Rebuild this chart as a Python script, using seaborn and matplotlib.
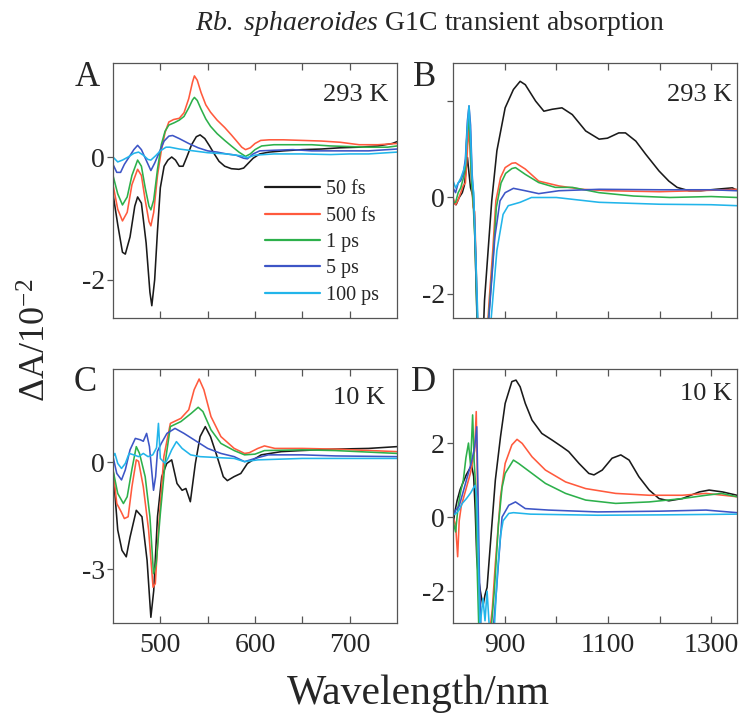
import numpy as np
import pandas as pd
import matplotlib
matplotlib.use("Agg")
import matplotlib.pyplot as plt
import seaborn as sns

# ---------------- data ----------------
delays = ["50 fs", "500 fs", "1 ps", "5 ps", "100 ps"]
colors = ["#1a1a1a", "#ff5a3d", "#2db04b", "#3d55c6", "#22b5ea"]

# Panel A (293 K, visible)
A_wl_50fs = [450, 455, 460, 463, 468, 473, 476, 480, 485, 489, 491, 494, 497, 500, 504, 508, 512, 516, 520, 524, 528, 533, 538, 542, 547, 552, 557, 562, 568, 575, 583, 588, 593, 598, 605, 615, 630, 650, 670, 690, 710, 730, 745, 750]
A_dA_50fs = [-0.6, -1.1, -1.55, -1.58, -1.3, -0.8, -0.65, -0.75, -1.4, -2.2, -2.42, -2.0, -1.2, -0.5, -0.15, -0.05, 0.0, -0.05, -0.15, -0.15, 0.0, 0.2, 0.33, 0.36, 0.3, 0.18, 0.05, -0.07, -0.15, -0.19, -0.2, -0.18, -0.1, -0.02, 0.05, 0.08, 0.1, 0.12, 0.13, 0.15, 0.16, 0.18, 0.22, 0.25]
A_wl_500fs = [450, 455, 460, 465, 470, 476, 480, 484, 488, 490, 493, 497, 501, 505, 509, 514, 520, 525, 530, 534, 536, 539, 543, 548, 553, 560, 568, 575, 580, 586, 590, 595, 600, 606, 615, 630, 650, 670, 690, 710, 730, 750]
A_dA_500fs = [-0.45, -0.85, -1.04, -0.9, -0.45, -0.2, -0.3, -0.7, -1.05, -1.12, -0.9, -0.3, 0.1, 0.4, 0.57, 0.61, 0.63, 0.72, 0.95, 1.22, 1.32, 1.25, 1.05, 0.85, 0.73, 0.6, 0.48, 0.36, 0.27, 0.16, 0.12, 0.15, 0.22, 0.27, 0.28, 0.28, 0.27, 0.26, 0.24, 0.2, 0.2, 0.22]
A_wl_1ps = [450, 455, 460, 465, 470, 476, 480, 484, 488, 490, 493, 497, 501, 505, 509, 515, 520, 525, 530, 534, 536, 539, 543, 548, 553, 560, 568, 575, 583, 590, 595, 600, 607, 620, 640, 660, 680, 700, 720, 740, 750]
A_dA_1ps = [-0.3, -0.6, -0.78, -0.65, -0.3, -0.05, -0.15, -0.5, -0.8, -0.86, -0.7, -0.2, 0.2, 0.42, 0.52, 0.56, 0.6, 0.66, 0.8, 0.93, 0.97, 0.92, 0.78, 0.62, 0.5, 0.38, 0.27, 0.18, 0.08, 0.01, 0.05, 0.12, 0.18, 0.2, 0.2, 0.2, 0.18, 0.17, 0.16, 0.16, 0.18]
A_wl_5ps = [450, 454, 458, 462, 467, 472, 476, 480, 485, 490, 494, 499, 504, 509, 513, 520, 530, 540, 550, 560, 570, 580, 588, 592, 598, 605, 620, 640, 660, 680, 700, 720, 740, 750]
A_dA_5ps = [-0.12, -0.25, -0.25, -0.12, 0.0, 0.12, 0.19, 0.12, -0.05, -0.22, -0.1, 0.08, 0.26, 0.34, 0.35, 0.3, 0.22, 0.15, 0.1, 0.08, 0.05, 0.03, -0.02, -0.03, 0.05, 0.1, 0.11, 0.12, 0.1, 0.1, 0.1, 0.1, 0.12, 0.13]
A_wl_100ps = [450, 455, 460, 466, 472, 477, 482, 487, 490, 495, 500, 506, 510, 520, 535, 550, 570, 585, 592, 600, 620, 650, 680, 700, 720, 740, 750]
A_dA_100ps = [0.0, -0.08, -0.05, 0.0, 0.06, 0.08, 0.03, -0.04, -0.05, 0.02, 0.1, 0.16, 0.16, 0.13, 0.1, 0.07, 0.05, 0.02, -0.01, 0.03, 0.05, 0.05, 0.04, 0.05, 0.05, 0.07, 0.08]

# Panel B (293 K, near-IR)
B_wl_50fs = [800, 806, 812, 818, 822, 825, 828, 831, 834, 838, 841, 844, 847, 852, 858, 861, 868, 875, 885, 901, 917, 930, 940, 960, 976, 992, 1011, 1031, 1057, 1083, 1099, 1121, 1134, 1154, 1173, 1199, 1218, 1234, 1257, 1280, 1309, 1341, 1350]
B_dA_50fs = [-0.1, -0.15, 0.0, 0.1, 0.25, 0.55, 0.83, 0.5, 0.2, 0.05, -0.3, -1.5, -2.6, -3.0, -3.0, -2.14, -1.1, -0.07, 0.97, 1.86, 2.24, 2.41, 2.34, 2.0, 1.79, 1.83, 1.86, 1.72, 1.38, 1.21, 1.23, 1.34, 1.34, 1.17, 0.9, 0.55, 0.34, 0.21, 0.14, 0.14, 0.17, 0.2, 0.15]
B_wl_500fs = [800, 805, 810, 815, 820, 824, 827, 830, 833, 836, 839, 842, 845, 848, 865, 870, 877, 883, 892, 901, 914, 921, 940, 966, 1005, 1050, 1100, 1200, 1300, 1350]
B_dA_500fs = [0.0, -0.15, -0.05, 0.1, 0.25, 0.3, 0.8, 1.45, 1.0, 0.3, -0.2, -0.3, -1.5, -2.8, -3.0, -2.14, -1.1, -0.07, 0.41, 0.62, 0.71, 0.72, 0.59, 0.34, 0.24, 0.17, 0.14, 0.12, 0.15, 0.17]
B_wl_1ps = [800, 805, 810, 815, 820, 824, 827, 830, 833, 836, 839, 843, 847, 865, 871, 878, 884, 893, 902, 914, 921, 940, 966, 998, 1031, 1083, 1150, 1220, 1300, 1350]
B_dA_1ps = [-0.1, -0.1, 0.1, 0.2, 0.4, 0.6, 1.3, 1.65, 1.2, 0.3, -0.1, -1.0, -2.8, -3.0, -2.2, -1.2, -0.2, 0.3, 0.5, 0.6, 0.62, 0.48, 0.31, 0.21, 0.21, 0.1, 0.03, 0.0, 0.02, 0.0]
B_wl_5ps = [800, 805, 810, 815, 820, 824, 828, 831, 834, 837, 840, 844, 848, 866, 872, 881, 891, 901, 917, 940, 966, 1005, 1083, 1200, 1300, 1350]
B_dA_5ps = [0.2, 0.1, 0.3, 0.35, 0.5, 0.8, 1.6, 1.9, 1.5, 0.5, 0.0, -1.2, -2.8, -3.0, -2.14, -0.83, -0.07, 0.1, 0.19, 0.14, 0.08, 0.14, 0.17, 0.16, 0.16, 0.14]
B_wl_100ps = [800, 805, 810, 815, 820, 824, 828, 831, 834, 837, 840, 845, 849, 868, 874, 885, 897, 907, 917, 930, 952, 1000, 1083, 1200, 1300, 1350]
B_dA_100ps = [0.35, 0.2, 0.3, 0.4, 0.55, 0.7, 1.5, 1.9, 1.3, 0.4, 0.1, -1.5, -2.8, -3.0, -2.5, -1.1, -0.35, -0.17, -0.14, -0.1, 0.0, 0.0, -0.1, -0.14, -0.15, -0.17]

# Panel C (10 K, visible)
C_wl_50fs = [450, 455, 459.5, 464, 468, 474.6, 480.6, 486, 490, 493, 497, 501.5, 506.8, 512, 517.6, 523, 527, 531.7, 537, 542, 547.5, 553, 560, 566.5, 570.8, 577.8, 585, 592, 606.5, 627.7, 649, 684, 720, 750]
C_dA_50fs = [-0.22, -1.9, -2.47, -2.65, -2.1, -1.35, -1.53, -2.75, -4.34, -3.6, -1.53, -0.41, -0.04, 0.06, -0.6, -0.79, -0.74, -1.11, -0.04, 0.71, 0.99, 0.71, 0.15, -0.41, -0.52, -0.41, -0.32, -0.04, 0.2, 0.29, 0.32, 0.36, 0.38, 0.43]
C_wl_500fs = [450, 454, 458.6, 462, 466, 470, 474.6, 477, 482, 487.6, 492.3, 494.7, 498, 503.7, 510.6, 521.7, 530, 535.7, 541, 546, 553.5, 564, 578, 589, 594, 603, 610, 621, 650, 685, 750]
C_dA_500fs = [-0.22, -1.16, -1.39, -1.58, -1.53, -0.69, 0.06, 0.02, -0.69, -1.9, -3.5, -3.4, -1.9, 0.15, 1.08, 1.22, 1.46, 2.02, 2.32, 2.02, 1.27, 0.71, 0.38, 0.24, 0.26, 0.38, 0.45, 0.38, 0.38, 0.36, 0.29]
C_wl_1ps = [450, 455, 461, 465, 470, 474.6, 478, 484, 489, 492.8, 495.6, 500, 505, 510.6, 521.7, 532.6, 540, 545, 553.5, 564, 578, 589, 600, 610, 650, 685, 750]
C_dA_1ps = [-0.22, -0.88, -1.16, -0.97, -0.2, 0.43, 0.24, -0.41, -1.53, -3.12, -2.84, -1.44, -0.04, 0.99, 1.13, 1.36, 1.53, 1.41, 0.9, 0.52, 0.32, 0.2, 0.22, 0.32, 0.34, 0.32, 0.24]
C_wl_5ps = [450, 454, 459, 463, 468, 473.6, 479, 482, 485.5, 488.5, 492.8, 495, 497, 501, 507, 515.5, 525, 535.7, 550, 564, 578, 589, 600, 614, 650, 685, 750]
C_dA_5ps = [0.15, -0.32, -0.5, -0.22, 0.34, 0.66, 0.62, 0.58, 0.8, 0.43, -0.79, -0.41, 0.3, 0.52, 0.8, 0.94, 0.8, 0.62, 0.38, 0.24, 0.15, 0.01, 0.1, 0.2, 0.2, 0.17, 0.15]
C_wl_100ps = [450, 452, 455, 459, 463, 467, 472, 477, 482, 487, 492, 496, 498, 500, 505, 508, 512, 517, 523, 532, 542, 578, 589, 603, 650, 750]
C_dA_100ps = [0.15, 0.24, -0.04, -0.18, -0.04, 0.24, 0.2, 0.15, 0.24, 0.15, 0.2, 0.4, 1.08, 0.1, -0.04, 0.1, 0.34, 0.57, 0.38, 0.2, 0.15, 0.1, 0.01, 0.06, 0.1, 0.1]

# Panel D (10 K, near-IR)
D_wl_50fs = [800, 803, 808, 814, 820, 826, 832, 836, 840, 843, 846, 849, 853, 858, 862, 866, 872, 882, 892, 901, 914, 922, 930, 940, 953, 972, 992, 1011, 1024, 1044, 1063, 1073, 1089, 1108, 1125, 1141, 1160, 1180, 1199, 1218, 1244, 1277, 1296, 1322, 1350]
D_dA_50fs = [-0.3, 0.1, 0.45, 0.75, 0.95, 1.15, 1.3, 1.4, 1.1, 0.2, -1.1, -1.6, -2.0, -2.4, -2.1, -1.9, -0.8, 1.0, 2.17, 3.07, 3.66, 3.7, 3.52, 3.07, 2.62, 2.26, 2.08, 1.9, 1.77, 1.45, 1.18, 1.14, 1.27, 1.59, 1.68, 1.54, 1.09, 0.73, 0.5, 0.44, 0.5, 0.68, 0.73, 0.68, 0.59]
D_wl_500fs = [800, 805, 809, 812, 816, 822, 828, 834, 838, 842, 845, 847, 849, 852, 872, 876, 882, 892, 901, 914, 924, 934, 953, 979, 1018, 1057, 1115, 1180, 1244, 1290, 1350]
D_dA_500fs = [0.0, -0.2, -1.07, -0.1, 0.3, 0.6, 0.9, 1.2, 1.5, 1.8, 2.85, 1.2, -1.0, -3.0, -3.0, -2.5, -1.25, 0.55, 1.45, 1.95, 2.1, 1.99, 1.63, 1.27, 0.95, 0.77, 0.64, 0.59, 0.59, 0.64, 0.55]
D_wl_1ps = [800, 805, 810, 815, 820, 825, 830, 834, 838, 841, 844, 847, 850, 874, 880, 888, 895, 901, 917, 927, 953, 979, 1018, 1057, 1115, 1180, 1244, 1290, 1320, 1350]
D_dA_1ps = [-0.1, -0.4, 0.3, 0.7, 1.0, 1.6, 2.0, 1.4, 2.76, 1.5, 0.8, -1.5, -3.0, -3.0, -2.0, -0.2, 0.8, 1.18, 1.54, 1.45, 1.18, 0.91, 0.64, 0.46, 0.37, 0.41, 0.5, 0.59, 0.64, 0.55]
D_wl_5ps = [800, 806, 812, 818, 824, 830, 836, 842, 846, 848, 851, 854, 878, 884, 888, 895, 908, 921, 940, 985, 1080, 1200, 1290, 1350]
D_dA_5ps = [0.05, 0.2, 0.3, 0.6, 0.9, 1.2, 1.5, 1.9, 2.44, 1.0, -1.5, -3.0, -3.0, -2.0, -1.25, 0.0, 0.32, 0.41, 0.23, 0.19, 0.14, 0.16, 0.19, 0.12]
D_wl_100ps = [800, 806, 812, 818, 826, 834, 840, 843, 846, 849, 852, 858, 862, 866, 870, 880, 886, 892, 897, 908, 917, 950, 1080, 1200, 1350]
D_dA_100ps = [0.05, 0.1, 0.2, 0.37, 0.5, 0.65, 0.8, 0.86, 0.5, -1.0, -3.0, -2.2, -2.8, -2.0, -2.9, -3.0, -1.5, -0.5, -0.1, 0.1, 0.12, 0.08, 0.05, 0.06, 0.08]

panel_letters = ["A", "B", "C", "D"]
panel_temps = ["293 K", "293 K", "10 K", "10 K"]
vis_ticks = [500, 550, 600, 650, 700]
vis_ticklabels = ["500", "", "600", "", "700"]
nir_ticks = [900, 1000, 1100, 1200, 1300]
nir_ticklabels = ["900", "", "1100", "", "1300"]

# ---------------- styling ----------------
sns.set_style("ticks")
plt.rcParams["font.family"] = ["Liberation Serif", "DejaVu Serif"]
plt.rcParams["mathtext.fontset"] = "custom"
plt.rcParams["mathtext.rm"] = "Liberation Serif"
plt.rcParams["mathtext.it"] = "Liberation Serif:italic"
plt.rcParams["axes.unicode_minus"] = False
spine_col = "#555555"


def make_df(prefix):
    g = globals()
    frames = []
    for key, lab in zip(["50fs", "500fs", "1ps", "5ps", "100ps"], delays):
        frames.append(pd.DataFrame({"wl": g[f"{prefix}_wl_{key}"],
                                    "dA": g[f"{prefix}_dA_{key}"],
                                    "delay": lab}))
    return pd.concat(frames, ignore_index=True)


fig = plt.figure(figsize=(7.45, 7.26), dpi=100)
W, H = 745.0, 726.0
boxes = {
    "A": (113, 63, 397, 318),
    "B": (453, 63, 737, 318),
    "C": (113, 369, 397, 623),
    "D": (453, 369, 737, 623),
}
axes = {}
for k, (l, t, r, b) in boxes.items():
    axes[k] = fig.add_axes([l / W, 1 - b / H, (r - l) / W, (b - t) / H])

settings = {
    "A": dict(xlim=(450, 750), ylim=(-2.62, 1.53), yt=[-2, 0], ytl=["-2", "0"],
              xt=vis_ticks, xtl=None, temp_xy=(0.968, 0.875)),
    "B": dict(xlim=(800, 1350), ylim=(-2.5, 2.79), yt=[-2, 0, 2], ytl=["-2", "0", ""],
              xt=nir_ticks, xtl=None, temp_xy=(0.982, 0.875)),
    "C": dict(xlim=(450, 750), ylim=(-4.5, 2.6), yt=[-3, 0], ytl=["-3", "0"],
              xt=vis_ticks, xtl=vis_ticklabels, temp_xy=(0.958, 0.886)),
    "D": dict(xlim=(800, 1350), ylim=(-2.86, 4.0), yt=[-2, 0, 2], ytl=["-2", "0", "2"],
              xt=nir_ticks, xtl=nir_ticklabels, temp_xy=(0.982, 0.9)),
}

for k, temp in zip(panel_letters, panel_temps):
    ax = axes[k]
    s = settings[k]
    df = make_df(k)
    sns.lineplot(data=df, x="wl", y="dA", hue="delay", hue_order=delays,
                 palette=colors, estimator=None, sort=False, linewidth=1.15,
                 legend=(k == "A"), ax=ax)
    ax.set_xlim(*s["xlim"])
    ax.set_ylim(*s["ylim"])
    ax.set_xticks(s["xt"])
    if s["xtl"] is None:
        ax.set_xticklabels([""] * len(s["xt"]))
    else:
        ax.set_xticklabels(s["xtl"])
    ax.set_yticks(s["yt"])
    ax.set_yticklabels(s["ytl"])
    ax.set_xlabel("")
    ax.set_ylabel("")
    ax.tick_params(axis="x", direction="in", top=True, bottom=True, length=5,
                   width=0.9, color=spine_col, labelsize=20, pad=7)
    ax.tick_params(axis="y", direction="out", left=True, right=False, length=4,
                   width=0.9, color=spine_col, labelsize=20, pad=2)
    for sp in ax.spines.values():
        sp.set_visible(True)
        sp.set_color(spine_col)
        sp.set_linewidth(0.9)
    ax.text(s["temp_xy"][0], s["temp_xy"][1], temp, transform=ax.transAxes,
            ha="right", va="center", fontsize=19)
    if k == "A":
        handles, labels = ax.get_legend_handles_labels()
        leg = ax.legend(handles, labels, loc="upper left",
                        bbox_to_anchor=(0.535, 0.54), frameon=False,
                        fontsize=14.5, handlelength=2.75, handletextpad=0.3,
                        labelspacing=0.36, borderpad=0, borderaxespad=0)
        for line in leg.get_lines():
            line.set_linewidth(1.6)

# panel letters
letter_pos = {"A": (87, 78), "B": (425, 77), "C": (85, 383), "D": (423, 383)}
for k, (x, y) in letter_pos.items():
    fig.text(x / W, 1 - y / H, k, ha="center", va="center", fontsize=25)

# title
fig.text(430 / W, 1 - 24 / H, r"$\mathit{Rb.\ sphaeroides}$ G1C transient absorption",
         ha="center", va="center", fontsize=20)
# axis labels
fig.text(418 / W, 1 - 694 / H, "Wavelength/nm", ha="center", va="center", fontsize=30)
fig.text(37 / W, 1 - 340 / H, r"ΔA/10$^{-2}$", ha="center", va="center",
         rotation=90, fontsize=26)

fig.savefig("out.png", dpi=100)
